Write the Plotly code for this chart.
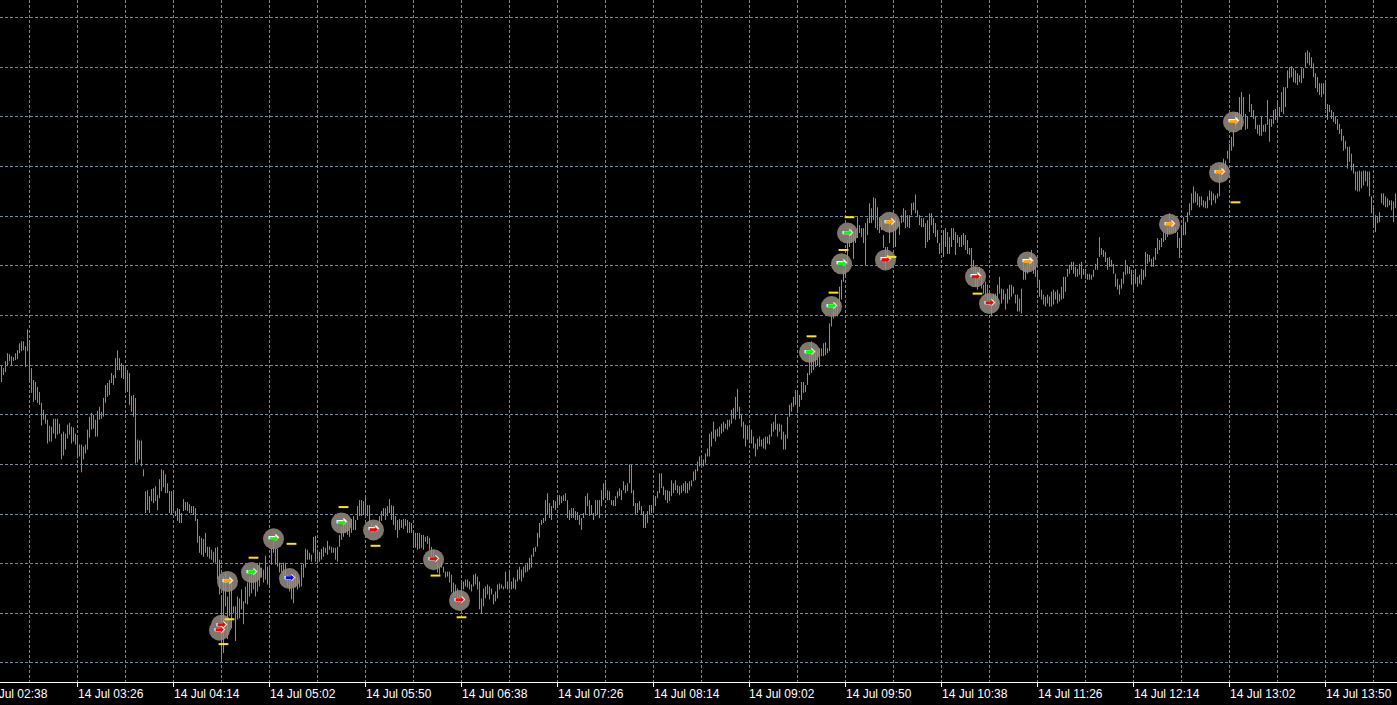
import plotly.graph_objects as go

# ---------------- data ----------------
DAY = "14 Jul"
FIRST_MINUTE = 168          # 02:48, one bar per minute (M1)
PRICE_BASE = 1.18000
POINT = 0.00001

# bar highs / lows in points above PRICE_BASE
HIGH_A = [299, 297, 304, 312, 311, 309, 308, 312, 315, 322,
          324, 324, 319, 336, 325, 297, 285, 283, 278, 273,
          262, 255, 250, 245, 239, 238, 246, 246, 246, 241,
          231, 233, 231, 240, 242, 238, 237, 231, 229, 220,
          220, 218, 220, 235, 248, 252, 250, 245, 254, 258,
          253, 267, 280, 282, 285, 292, 290, 307, 315, 307,
          302, 300, 299, 295, 292, 269, 270, 267, 225, 224,
          224, 195, 173, 174, 168, 175, 176, 178, 169, 185,
          195, 194, 190, 181, 173, 173, 173, 153, 156, 155,
          151, 165, 162, 162, 160, 158, 158, 156, 145, 128,
          126, 125, 131, 117, 117, 114, 112, 116, 117, 104,
          67, 87, 91, 67, 87, 81, 57, 57, 67, 65,
          74, 62, 77, 81, 87, 91, 94, 91, 99, 101,
          96, 94, 108, 97, 96, 116, 124, 115, 115, 101,
          99, 101, 101, 89, 86, 84, 84, 91, 86, 84,
          99, 100, 115, 114, 111, 109, 127, 128, 114, 112,
          115, 117, 116, 123, 118, 117, 116, 116, 117, 129,
          137, 144, 141, 142, 142, 145, 148, 144, 158, 164,
          164, 163, 166, 159, 159, 141, 139, 139, 141, 148,
          153, 156, 156, 158, 165, 159, 158, 148, 144, 145,
          144, 145, 145, 144, 142, 141, 132, 131, 131, 131,
          129, 129, 127, 128, 126, 117, 114, 106, 101, 97,
          102, 97, 92, 92, 92, 89, 81, 79, 75, 70,
          81, 82, 84, 84, 82]
LOW_A = [283, 290, 293, 299, 304, 299, 304, 305, 306, 312,
         314, 315, 298, 314, 285, 272, 263, 265, 262, 260,
         239, 245, 241, 221, 223, 223, 231, 226, 230, 231,
         205, 209, 215, 226, 230, 221, 223, 220, 206, 208,
         192, 205, 211, 215, 227, 235, 236, 228, 228, 245,
         246, 248, 262, 268, 270, 282, 280, 287, 295, 295,
         287, 286, 273, 273, 260, 253, 248, 201, 202, 205,
         198, 188, 151, 154, 151, 163, 161, 163, 154, 166,
         173, 177, 171, 171, 151, 149, 151, 148, 143, 141,
         141, 153, 154, 153, 151, 151, 149, 143, 121, 111,
         109, 107, 111, 107, 105, 104, 101, 101, 84, 69,
         3, 10, 57, 24, 47, 35, 50, 22, 44, 45,
         54, 39, 60, 59, 67, 70, 74, 67, 72, 77,
         86, 81, 84, 79, 77, 99, 111, 99, 97, 91,
         91, 87, 86, 77, 72, 64, 60, 76, 74, 76,
         77, 86, 96, 104, 104, 102, 111, 102, 104, 102,
         104, 107, 111, 109, 114, 111, 111, 104, 102, 117,
         124, 127, 131, 129, 127, 131, 134, 134, 144, 148,
         148, 149, 149, 148, 141, 131, 131, 131, 134, 141,
         143, 148, 144, 148, 151, 144, 139, 134, 126, 134,
         136, 135, 138, 131, 131, 131, 116, 116, 114, 115,
         116, 114, 122, 120, 114, 105, 104, 101, 91, 89,
         96, 91, 86, 87, 81, 71, 67, 67, 64, 62,
         67, 74, 77, 76, 74]

HIGH_B = [79, 89, 90, 87, 82, 65, 75, 77, 79, 77,
          75, 69, 72, 79, 80, 79, 77, 92, 82, 94,
          82, 86, 84, 94, 97, 94, 97, 99, 101, 106,
          109, 116, 117, 131, 141, 144, 146, 164, 171, 161,
          158, 164, 163, 168, 169, 168, 169, 171, 164, 154,
          156, 156, 153, 152, 149, 146, 151, 168, 171, 164,
          159, 151, 164, 164, 164, 174, 181, 183, 174, 173,
          164, 164, 168, 173, 176, 174, 183, 179, 181, 200,
          200, 174, 161, 161, 163, 158, 153, 149, 153, 159,
          159, 166, 168, 173, 191, 191, 178, 174, 174, 173,
          184, 181, 184, 179, 178, 179, 181, 183, 181, 183,
          184, 193, 195, 203, 208, 206, 205, 211, 216, 231,
          233, 243, 235, 236, 238, 241, 243, 241, 245, 245,
          255, 257, 268, 276, 258, 251, 243, 240, 239, 240,
          235, 228, 221, 226, 228, 225, 226, 228, 228, 230,
          241, 243, 250, 241, 241, 240, 233, 230, 248, 260,
          262, 268, 275, 275, 270, 283, 283, 280, 292, 312,
          324, 312, 315, 314, 317, 317, 322, 323, 317, 342,
          350, 361, 364, 366, 379, 386, 396, 402, 426, 439,
          439, 433, 436, 449, 441, 438, 438, 443, 448, 463,
          458, 469, 468, 459, 449, 446, 431, 419, 419, 443,
          449, 446, 449, 446, 444, 451, 458, 456, 451, 451,
          463, 464, 472, 456, 451, 448, 448, 443, 446]
LOW_B = [72, 77, 79, 74, 54, 50, 57, 65, 69, 64,
         69, 59, 62, 65, 74, 75, 74, 75, 74, 74,
         74, 75, 74, 82, 84, 82, 86, 91, 92, 94,
         96, 107, 112, 117, 126, 139, 141, 143, 149, 146,
         144, 156, 154, 156, 159, 161, 163, 163, 146, 144,
         146, 146, 144, 144, 139, 134, 146, 149, 158, 148,
         149, 144, 148, 149, 146, 158, 164, 166, 164, 164,
         159, 158, 158, 166, 168, 164, 174, 171, 173, 181,
         171, 158, 149, 151, 154, 149, 136, 136, 141, 149,
         151, 154, 158, 166, 171, 176, 169, 164, 161, 163,
         168, 171, 174, 171, 169, 171, 173, 171, 171, 174,
         178, 183, 184, 193, 198, 200, 198, 201, 208, 208,
         218, 226, 223, 228, 228, 231, 233, 236, 235, 238,
         241, 246, 245, 253, 246, 238, 226, 218, 225, 221,
         221, 216, 208, 215, 218, 218, 216, 215, 221, 220,
         228, 233, 235, 228, 233, 225, 215, 215, 226, 248,
         253, 258, 260, 255, 258, 265, 272, 273, 280, 290,
         292, 295, 298, 300, 298, 309, 309, 310, 312, 314,
         339, 347, 349, 349, 359, 366, 384, 389, 401, 419,
         423, 407, 423, 428, 433, 429, 423, 401, 431, 443,
         443, 446, 438, 436, 433, 436, 418, 397, 406, 423,
         439, 419, 419, 438, 431, 443, 444, 438, 439, 438,
         451, 456, 453, 449, 441, 439, 439, 418, 424]

HIGH_C = [453, 453, 448, 443, 436, 423, 428, 436, 438, 434,
          429, 438, 438, 434, 431, 429, 431, 433, 431, 426,
          418, 418, 406, 399, 396, 399, 391, 381, 384, 381,
          372, 369, 372, 372, 381, 389, 377, 376, 372, 377,
          381, 381, 379, 371, 371, 367, 377, 404, 399, 406,
          408, 416, 406, 399, 396, 386, 376, 371, 369, 371,
          369, 374, 376, 374, 376, 372, 379, 389, 389, 397,
          401, 404, 404, 399, 397, 402, 404, 397, 397, 392,
          392, 391, 396, 402, 408, 429, 418, 416, 414, 408,
          409, 406, 402, 392, 387, 381, 387, 394, 406, 401,
          399, 396, 392, 397, 389, 391, 397, 396, 414, 412,
          411, 407, 409, 418, 428, 426, 428, 434, 433, 439,
          453, 444, 443, 439, 434, 428, 439, 449, 444, 454,
          463, 473, 480, 475, 473, 470, 470, 466, 465, 470,
          476, 475, 473, 471, 473, 501, 503, 508, 506, 516,
          523, 530, 537, 555, 555, 570, 575, 570, 553, 550,
          573, 563, 557, 550, 542, 542, 550, 542, 543, 567,
          548, 548, 557, 558, 565, 560, 575, 580, 580, 597,
          600, 601, 599, 597, 594, 592, 599, 599, 615, 617,
          615, 610, 604, 594, 590, 584, 584, 584, 584, 563,
          562, 557, 555, 550, 548, 543, 538, 531, 526, 520,
          520, 513, 503, 495, 495, 496, 495, 496, 496, 495,
          495, 470, 459, 451, 449, 454, 473, 473, 470, 468,
          466, 466, 465, 473]
LOW_C = [426, 441, 433, 429, 423, 412, 414, 409, 419, 412,
         412, 419, 426, 411, 423, 419, 419, 421, 416, 412,
         411, 396, 392, 379, 376, 386, 377, 372, 369, 362,
         359, 349, 362, 359, 366, 372, 362, 366, 356, 362,
         366, 369, 372, 362, 354, 354, 352, 386, 386, 392,
         396, 399, 392, 389, 381, 369, 366, 361, 359, 362,
         359, 359, 361, 366, 362, 364, 366, 367, 374, 389,
         392, 396, 392, 389, 389, 391, 387, 391, 387, 386,
         386, 386, 389, 396, 396, 409, 411, 409, 404, 396,
         399, 399, 392, 379, 376, 371, 377, 382, 391, 392,
         392, 381, 374, 382, 379, 382, 381, 386, 389, 402,
         404, 399, 399, 406, 412, 416, 419, 424, 426, 429,
         433, 433, 434, 433, 418, 408, 419, 431, 431, 444,
         451, 456, 463, 464, 461, 459, 461, 459, 458, 458,
         466, 461, 466, 463, 468, 470, 486, 493, 496, 508,
         506, 516, 520, 538, 547, 547, 537, 550, 537, 538,
         555, 550, 548, 538, 533, 531, 531, 535, 535, 542,
         525, 540, 543, 547, 545, 550, 555, 553, 560, 579,
         589, 590, 585, 584, 582, 585, 584, 589, 600, 604,
         602, 599, 590, 579, 575, 572, 570, 573, 558, 547,
         555, 548, 545, 543, 537, 533, 526, 516, 518, 498,
         505, 496, 493, 476, 475, 475, 478, 481, 485, 480,
         470, 453, 439, 434, 443, 444, 463, 461, 459, 459,
         461, 456, 444, 458]

# signal arrows (minute of day, price in points, colour)
SIG_MINUTE = [277, 278, 281, 293, 304, 312, 338, 354, 384, 397,
              572, 583, 588, 591, 610, 612, 655, 662, 681, 752, 777, 784]
SIG_POINTS = [33, 38, 82, 91, 125, 85, 141, 134, 104, 63,
              313, 359, 402, 433, 406, 444, 389, 362, 404, 442, 494, 545]
SIG_COLOR = ["#FF0000", "#FF0000", "#FFA500", "#00FF00", "#00FF00", "#0000FF",
             "#00FF00", "#FF0000", "#FF0000", "#FF0000", "#00FF00", "#00FF00",
             "#00FF00", "#00FF00", "#FF0000", "#FFA500", "#FF0000", "#FF0000",
             "#FFA500", "#FFA500", "#FFA500", "#FFA500"]

# small yellow level dashes
DASH_MINUTE = [279, 282, 294, 313, 339, 355, 385, 398, 573, 584, 589, 592, 613, 656, 785]
DASH_POINTS = [19, 44, 106, 120, 157, 118, 88, 46, 329, 373, 416, 449, 409, 372, 464]

# time-axis labels every 48 minutes
LABEL_MINUTES = list(range(158, 866, 48))   # 02:38 ... 13:50

# ---------------- build ----------------
HIGH = HIGH_A + HIGH_B + HIGH_C
LOW = LOW_A + LOW_B + LOW_C
MINUTES = list(range(FIRST_MINUTE, FIRST_MINUTE + len(HIGH)))
assert len(HIGH) == len(LOW) == 698


def price(p):
    return PRICE_BASE + p * POINT


bx, by = [], []
for m, h, l in zip(MINUTES, HIGH, LOW):
    bx += [m, m, None]
    by += [price(l), price(h), None]

X0, X1 = FIRST_MINUTE - 0.75, FIRST_MINUTE - 0.75 + 698.5
Y0, Y1 = price(-19.2), price(667.8)

GRID = "#778899"
BAR = "#32CD32"
SIG_Y = [price(p) for p in SIG_POINTS]

fig = go.Figure()

# grey halo circles
fig.add_trace(go.Scatter(
    x=SIG_MINUTE, y=SIG_Y, mode="markers",
    marker=dict(symbol="circle", size=21, color="rgb(128,119,110)", line=dict(width=0)),
    hoverinfo="skip", showlegend=False))

# price bars
fig.add_trace(go.Scatter(
    x=bx, y=by, mode="lines", line=dict(color=BAR, width=1),
    hoverinfo="skip", showlegend=False, connectgaps=False))

# arrows: white outline glyph, then coloured glyph on top
fig.add_trace(go.Scatter(
    x=SIG_MINUTE, y=SIG_Y, mode="text",
    text=["➡"] * len(SIG_MINUTE), textposition="middle center",
    textfont=dict(family="DejaVu Sans", size=14, color="white", weight="bold"),
    hoverinfo="skip", showlegend=False))
fig.add_trace(go.Scatter(
    x=SIG_MINUTE, y=SIG_Y, mode="text",
    text=["➡"] * len(SIG_MINUTE), textposition="middle center",
    textfont=dict(family="DejaVu Sans", size=11, color=SIG_COLOR, weight="bold"),
    hoverinfo="skip", showlegend=False))

# yellow dashes
fig.add_trace(go.Scatter(
    x=DASH_MINUTE, y=[price(p) for p in DASH_POINTS], mode="markers",
    marker=dict(symbol="line-ew", size=7, line=dict(color="#FFE800", width=2)),
    hoverinfo="skip", showlegend=False))

annotations = []
for m in LABEL_MINUTES:
    annotations.append(dict(
        x=(m - X0) / (X1 - X0), xref="paper", y=0, yref="paper",
        xanchor="left", yanchor="top", xshift=-2, yshift=-3,
        text=f"{DAY} {m // 60:02d}:{m % 60:02d}", showarrow=False,
        font=dict(family="Liberation Sans, Arial, sans-serif", size=12, color="white")))

fig.update_layout(
    width=1397, height=705,
    margin=dict(l=0, r=0, t=0, b=23, pad=0),
    paper_bgcolor="black", plot_bgcolor="black",
    showlegend=False,
    annotations=annotations,
    xaxis=dict(
        range=[X0, X1], tickmode="linear", tick0=206, dtick=48,
        showgrid=True, gridcolor=GRID, griddash="3px,2px", gridwidth=1,
        minor=dict(tick0=206, dtick=24, showgrid=True, gridcolor=GRID,
                   griddash="3px,2px", gridwidth=1, ticks=""),
        ticks="outside", ticklen=4, tickcolor="white", tickwidth=1,
        showticklabels=False, showline=True, linecolor="white", linewidth=1,
        zeroline=False, fixedrange=True),
    yaxis=dict(
        range=[Y0, Y1], tickmode="linear", tick0=PRICE_BASE, dtick=50 * POINT,
        showgrid=True, gridcolor=GRID, griddash="3px,2px", gridwidth=1,
        showticklabels=False, ticks="", showline=False, zeroline=False,
        fixedrange=True),
)

fig.write_html(
    "out.html",
    config={"displayModeBar": False},
    post_script="document.body.style.margin='0';document.body.style.padding='0';"
                "document.body.style.background='black';",
)
